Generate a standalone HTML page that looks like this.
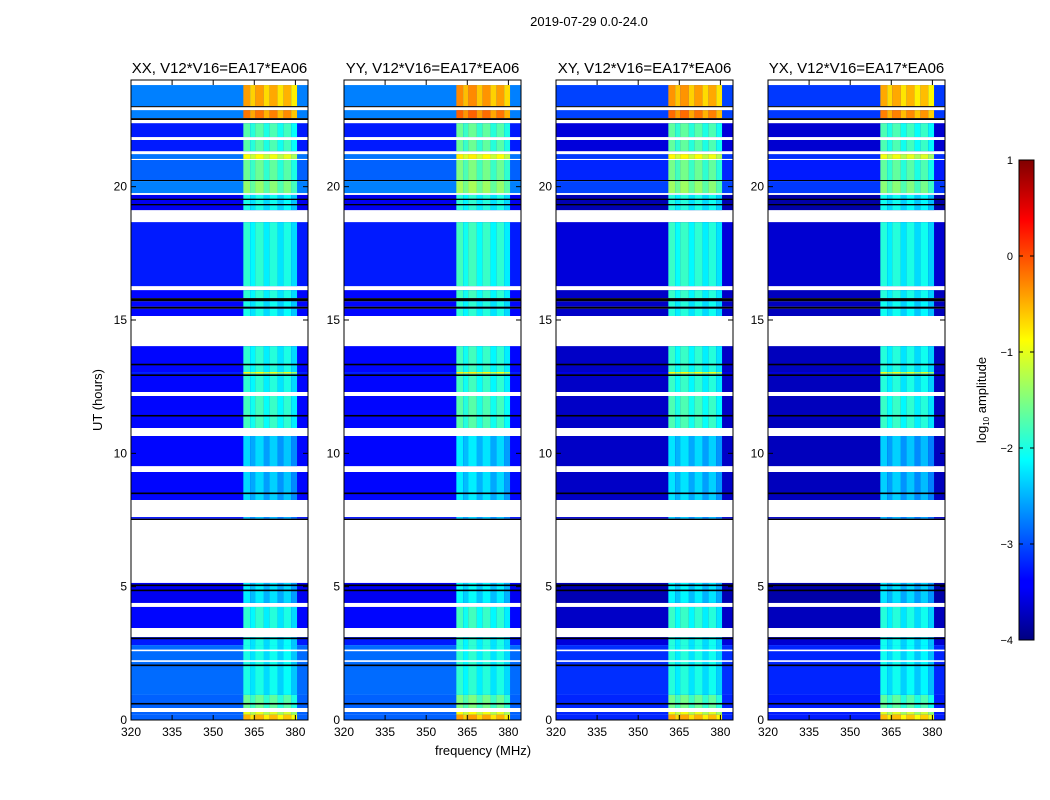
<!DOCTYPE html>
<html><head><meta charset="utf-8">
<style>
body{margin:0;background:#fff;width:1050px;height:800px;overflow:hidden;font-family:"Liberation Sans",sans-serif;}
svg{display:block}
</style></head>
<body>
<svg id="fig" width="1050" height="800" xmlns="http://www.w3.org/2000/svg" font-family="Liberation Sans, sans-serif">
<rect width="1050" height="800" fill="#fff"/>
<text x="589" y="26" font-size="13" text-anchor="middle">2019-07-29 0.0-24.0</text>
<text x="483" y="755" font-size="13" text-anchor="middle">frequency (MHz)</text>
<text x="102" y="400" font-size="13" text-anchor="middle" transform="rotate(-90 102 400)">UT (hours)</text>
<g id="panels"></g>
<defs>
<linearGradient id="jet" x1="0" y1="1" x2="0" y2="0">
<stop offset="0" stop-color="#000080"/><stop offset="0.11" stop-color="#0000ff"/><stop offset="0.125" stop-color="#0000ff"/>
<stop offset="0.375" stop-color="#00ffff"/><stop offset="0.5" stop-color="#80ff80"/><stop offset="0.625" stop-color="#ffff00"/>
<stop offset="0.875" stop-color="#ff0000"/><stop offset="1" stop-color="#800000"/>
</linearGradient>
</defs>
<g id="colorbar">
<rect x="1019" y="160" width="15" height="480" fill="url(#jet)" stroke="#000" stroke-width="1"/>
<g id="cbticks"></g>
<text x="986" y="400" font-size="13" text-anchor="middle" transform="rotate(-90 986 400)">log<tspan font-size="8" dy="3">10</tspan><tspan dy="-3"> amplitude</tspan></text>
</g>
</svg>
<script>
// ---- data ----
const panelTitles = ["XX, V12*V16=EA17*EA06","YY, V12*V16=EA17*EA06","XY, V12*V16=EA17*EA06","YX, V12*V16=EA17*EA06"];
const panelBaseOffset = [0, 0, -0.3, -0.35];
const panelBandOffset = [0, 0.1, 0.05, -0.05];
const xTicks = [320,335,350,365,380];
const yTicks = [0,5,10,15,20];
const cbTicks = [-4,-3,-2,-1,0,1];
const subbands = [[361,363.5],[363.5,365.3],[365.3,368.5],[368.5,370.5],[370.5,373.5],[373.5,375.6],[375.6,378.5],[378.5,380.6]];
const subbandDelta = [0.1,-0.15,0.1,-0.2,0.05,-0.25,0.0,-0.3];
// segments: [startHour, endHour, baseLevel, bandLevel] ; "gap" = no data, "black" = flagged line
const segments = [
[23.02,23.81,-2.75,-0.5],[22.98,23.02,"black"],[22.57,22.87,-2.75,-0.3],[22.5,22.57,"black"],
[21.86,22.38,-3.25,-1.8],[21.33,21.75,-3.25,-1.8],[21.04,21.22,-2.8,-1.0],[20.25,21.0,-2.9,-1.7],
[20.21,20.25,"black"],[19.76,20.21,-2.75,-1.5],[19.12,19.69,-3.45,-2.1],[19.5,19.55,"black"],[19.3,19.35,"black"],
[16.27,18.67,-3.25,-2.0],[15.82,16.12,-3.35,-2.0],[15.7,15.82,"black"],[15.5,15.7,-3.35,-2.1],[15.42,15.5,"black"],[15.15,15.42,-3.35,-2.1],
[12.3,14.02,-3.35,-2.0],[13.3,13.36,"black"],[12.9,12.96,"black"],[12.99,13.05,-3.2,-1.0],
[10.95,12.15,-3.35,-1.9],[11.38,11.44,"black"],[9.52,10.65,-3.35,-2.4],[8.25,9.3,-3.35,-2.4],[8.47,8.53,"black"],
[7.55,7.61,-3.3,-2.5],[7.5,7.55,"black"],[4.39,5.14,-3.45,-2.3],[5.02,5.08,"black"],[4.83,4.89,"black"],
[3.45,4.24,-3.35,-2.0],[2.81,3.11,-3.25,-2.1],[3.03,3.09,"black"],[0.94,2.81,-2.85,-2.1],[2.58,2.64,"gap"],[2.18,2.24,"gap"],
[2.02,2.08,"black"],[0.45,0.94,-2.9,-1.7],[0.58,0.64,"black"],[0.2,0.3,-2.9,-1.1],[0,0.2,-2.9,-0.6]
];
// ---- layout ----
const panelX = [131,344,556,768];
const PW = 177, PT = 80, PB = 720;
const fMin = 320, fMax = 384.6, hMin = 0, hMax = 24;
const NS = "http://www.w3.org/2000/svg";
function jet(v){
  let t = (v+4)/5; t = Math.max(0,Math.min(1,t));
  const c = x=>Math.round(255*Math.max(0,Math.min(1,1.5-Math.abs(x))));
  return `rgb(${c(4*t-3)},${c(4*t-2)},${c(4*t-1)})`;
}
function el(tag, attrs, parent){
  const e = document.createElementNS(NS, tag);
  for (const k in attrs) e.setAttribute(k, attrs[k]);
  parent.appendChild(e); return e;
}
const root = document.getElementById('panels');
panelTitles.forEach((title, p) => {
  const x0 = panelX[p];
  const xs = f => x0 + (f - fMin) / (fMax - fMin) * PW;
  const ys = h => PB - (h - hMin) / (hMax - hMin) * (PB - PT);
  const g = el('g', {}, root);
  
  
  segments.forEach(s => {
    const y1 = ys(s[1]), y0 = ys(s[0]);
    if (s[2] === "black" || s[2] === "gap") {
      const r = el('rect', {x:x0, y:y1, width:PW, height:Math.max(1,y0-y1), fill: s[2]==="black"?"#000":"#fff"}, g);
      
      
      return;
    }
    const r = el('rect', {x:x0, y:y1, width:PW, height:y0-y1, fill: jet(s[2] + panelBaseOffset[p])}, g);
    
    
    subbands.forEach((sb, i) => {
      const c = el('rect', {x:xs(sb[0]), y:y1, width:xs(sb[1])-xs(sb[0]), height:y0-y1, fill: jet(s[3] + panelBandOffset[p] + subbandDelta[i])}, g);
      
      
    });
  });
  const fr = el('rect', {x:x0, y:PT, width:PW, height:PB-PT, fill:'none', stroke:'#000', 'stroke-width':1}, g);
  
  
  const t = el('text', {x:x0+PW/2, y:PT-7, 'font-size':15, 'text-anchor':'middle'}, g);
  t.textContent = title;
  
  
  xTicks.forEach(v => {
    const x = xs(v);
    el('line', {x1:x, x2:x, y1:PB, y2:PB-5, stroke:'#000'}, g);
    el('line', {x1:x, x2:x, y1:PT, y2:PT+5, stroke:'#000'}, g);
    const l = el('text', {x:x, y:PB+16, 'font-size':12, 'text-anchor':'middle'}, g);
    l.textContent = v;
    
    
  });
  yTicks.forEach(v => {
    const y = ys(v);
    el('line', {x1:x0, x2:x0+5, y1:y, y2:y, stroke:'#000'}, g);
    el('line', {x1:x0+PW, x2:x0+PW-5, y1:y, y2:y, stroke:'#000'}, g);
    const l = el('text', {x:x0-4, y:y+4, 'font-size':12, 'text-anchor':'end'}, g);
    l.textContent = v;
    
    
  });
});
const cbg = document.getElementById('cbticks');
cbTicks.forEach(v => {
  const y = 640 - (v + 4) / 5 * 480;
  el('line', {x1:1019, x2:1023, y1:y, y2:y, stroke:'#000'}, cbg);
  el('line', {x1:1030, x2:1034, y1:y, y2:y, stroke:'#000'}, cbg);
  const l = el('text', {x:1013, y:y+4, 'font-size':11, 'text-anchor':'end'}, cbg);
  l.textContent = v < 0 ? '\u2212' + Math.abs(v) : String(v);
  
  
});
</script>
</body></html>
